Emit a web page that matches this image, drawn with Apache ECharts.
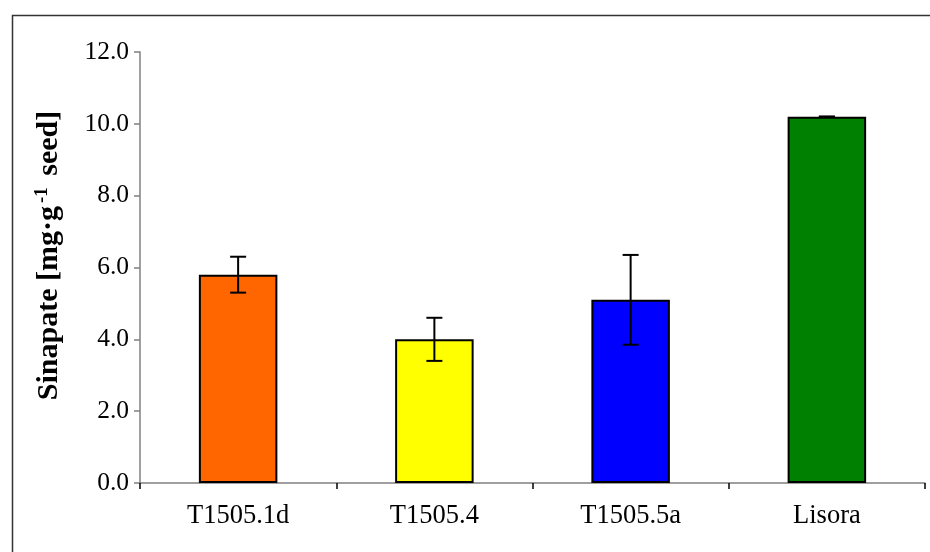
<!DOCTYPE html>
<html><head><meta charset="utf-8">
<script src="https://cdn.jsdelivr.net/npm/echarts@6/dist/echarts.min.js"></script>
<style>html,body{margin:0;padding:0;background:#fff}#c{width:930px;height:552px}</style>
</head><body><div id="c"></div>
<script>
var categories = ['T1505.1d', 'T1505.4', 'T1505.5a', 'Lisora'];
var values = [5.8, 4.0, 5.1, 10.2];
var errors = [0.5, 0.6, 1.25, 0.0];
var colors = ['#FF6600', '#FFFF00', '#0000FF', '#008000'];
var yTicks = [0, 2, 4, 6, 8, 10, 12];

var chart = echarts.init(document.getElementById('c'));
var font = '"Liberation Serif", "Times New Roman", serif';
chart.setOption({
  animation: false,
  backgroundColor: '#fff',
  graphic: [{
    type: 'rect', left: 10, top: 13, shape: {width: 940, height: 560},
    style: {fill: 'none', stroke: '#333', lineWidth: 1.5}, silent: true, z: -1
  }],
  grid: {left: 140, right: 5, top: 52, bottom: 69, containLabel: false},
  xAxis: {
    type: 'category', data: categories,
    axisLine: {lineStyle: {color: '#808080', width: 1.5}},
    axisTick: {show: true, length: 6, alignWithLabel: false, lineStyle: {color: '#000', width: 1.5}},
    axisLabel: {color: '#000', fontFamily: font, fontSize: 26.5, margin: 20}
  },
  yAxis: {
    type: 'value', min: yTicks[0], max: yTicks[yTicks.length - 1], interval: 2,
    name: '{a|Sinapate [mg·g}{s|-1}{a| seed]}',
    nameLocation: 'middle', nameGap: 74, nameRotate: 90,
    nameTextStyle: {padding: [0, 0, 0, 24], rich: {
      a: {fontFamily: font, fontSize: 30, fontWeight: 'bold', color: '#000'},
      s: {fontFamily: font, fontSize: 19, fontWeight: 'bold', color: '#000', verticalAlign: 'top', padding: [0, 4, 14, 3]}
    }},
    axisLine: {show: true, lineStyle: {color: '#808080', width: 1.5}},
    axisTick: {show: true, length: 6, lineStyle: {color: '#808080', width: 1.5}},
    splitLine: {show: false},
    axisLabel: {color: '#000', fontFamily: font, fontSize: 25.5, margin: 11,
      formatter: function (v) { return v.toFixed(1); }}
  },
  series: [{
    type: 'bar', barWidth: '40%',
    data: values.map(function (v, i) {
      return {value: v, itemStyle: {color: colors[i], borderColor: '#000', borderWidth: 2}};
    })
  }, {
    type: 'custom', z: 10,
    data: values.map(function (v, i) { return [i, v - errors[i], v + errors[i]]; }),
    renderItem: function (params, api) {
      var lo = api.coord([api.value(0), api.value(1)]);
      var hi = api.coord([api.value(0), api.value(2)]);
      var w = 8;
      var st = {stroke: '#000', lineWidth: 2};
      return {type: 'group', children: [
        {type: 'line', shape: {x1: hi[0], y1: hi[1], x2: lo[0], y2: lo[1]}, style: st},
        {type: 'line', shape: {x1: hi[0] - w, y1: hi[1], x2: hi[0] + w, y2: hi[1]}, style: st},
        {type: 'line', shape: {x1: lo[0] - w, y1: lo[1], x2: lo[0] + w, y2: lo[1]}, style: st}
      ]};
    }
  }]
});
</script></body></html>
